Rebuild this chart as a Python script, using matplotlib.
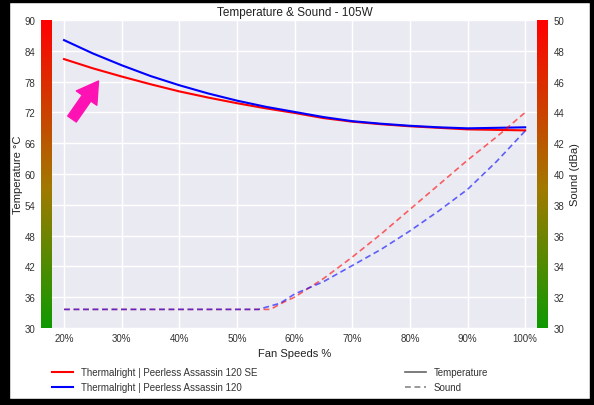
import numpy as np
import matplotlib
matplotlib.use('Agg')
import matplotlib.pyplot as plt
from matplotlib.colors import LinearSegmentedColormap
from matplotlib.lines import Line2D
from matplotlib.patches import Rectangle

plt.rcParams['font.family'] = ['Liberation Sans', 'DejaVu Sans']

# fan speed (%) and readings taken off the chart
temp_x = [20, 25, 30, 35, 40, 45, 50, 55, 60, 65, 70, 75, 80, 85, 90, 95, 100]
temp_se = [82.4, 80.6, 79.0, 77.5, 76.1, 74.9, 73.8, 72.8, 71.9, 70.9, 70.2,
           69.7, 69.3, 69.0, 68.7, 68.6, 68.5]
temp_pa = [86.1, 83.5, 81.2, 79.1, 77.3, 75.7, 74.3, 73.1, 72.1, 71.1, 70.3,
           69.8, 69.4, 69.1, 68.9, 69.0, 69.1]

sound_se_x = [20, 30, 40, 50, 55.8, 58, 60, 65, 70, 75, 80, 85, 90, 95, 100]
sound_se = [31.2, 31.2, 31.2, 31.2, 31.2, 31.65, 32.0, 33.2, 34.6, 36.1, 37.7,
            39.3, 40.9, 42.4, 44.0]
sound_pa_x = [20, 30, 40, 50, 53.7, 57.5, 60, 65, 70, 75, 80, 85, 90, 95, 100]
sound_pa = [31.2, 31.2, 31.2, 31.2, 31.2, 31.6, 32.2, 33.0, 34.05, 35.1, 36.3,
            37.6, 39.0, 40.8, 42.8]

names = ['Thermalright | Peerless Assassin 120 SE', 'Thermalright | Peerless Assassin 120']
colors = ['red', 'blue']

x_ticks = [20, 30, 40, 50, 60, 70, 80, 90, 100]
temp_ticks = [30, 36, 42, 48, 54, 60, 66, 72, 78, 84, 90]
sound_ticks = [30, 32, 34, 36, 38, 40, 42, 44, 46, 48, 50]

fig = plt.figure(figsize=(5.94, 4.06), dpi=100)
ax = fig.add_axes([0.069, 0.19, 0.854, 0.758])
ax.set_facecolor('#EAEAF2')
for s in ax.spines.values():
    s.set_visible(False)
ax.grid(True, color='white', linewidth=1.0)
ax.set_axisbelow(True)

ax.plot(temp_x, temp_se, color=colors[0], lw=1.5, zorder=3)
ax.plot(temp_x, temp_pa, color=colors[1], lw=1.5, zorder=3)

ax.set_xticks(x_ticks)
ax.set_xticklabels([f'{v}%' for v in x_ticks])
ax.set_yticks(temp_ticks)
ax.tick_params(length=0, labelsize=7, labelcolor='#333333', pad=4)
ax.set_xlabel('Fan Speeds %', fontsize=8, color='#222222', labelpad=3)
ax.set_ylabel('Temperature °C', fontsize=8, color='#222222', labelpad=1)
ax.set_title('Temperature & Sound - 105W', fontsize=8.5, color='#222222', pad=4)

# colour strips at both sides
cmap = LinearSegmentedColormap.from_list('gr', [(0, '#0f9900'), (0.45, '#a07a00'), (1, '#ff0000')])
grad = np.linspace(0, 1, 256).reshape(-1, 1)
ax.imshow(grad, cmap=cmap, origin='lower', aspect='auto', extent=(16, 17.9, 30, 90), zorder=2)
ax.imshow(grad, cmap=cmap, origin='lower', aspect='auto', extent=(102.1, 104, 30, 90), zorder=2)
ax.set_xlim(16, 104)
ax.set_ylim(30, 90)

ax2 = ax.twinx()
for s in ax2.spines.values():
    s.set_visible(False)
ax2.grid(False)
ax2.plot(sound_se_x, sound_se, color=colors[0], lw=1.2, ls='--', alpha=0.6, dashes=(3.5, 2.2))
ax2.plot(sound_pa_x, sound_pa, color=colors[1], lw=1.2, ls='--', alpha=0.6, dashes=(3.5, 2.2))
ax2.set_ylim(30, 50)
ax2.set_yticks(sound_ticks)
ax2.tick_params(length=0, labelsize=7, labelcolor='#333333', pad=4)
ax2.set_ylabel('Sound (dBa)', fontsize=8, color='#222222', labelpad=4)

h1 = [Line2D([], [], color=c, lw=1.5) for c in colors]
fig.legend(h1, names, loc='upper left', bbox_to_anchor=(0.081, 0.103), frameon=False,
           fontsize=7, handlelength=2.2, labelspacing=0.5, borderaxespad=0, labelcolor='#333333')
h2 = [Line2D([], [], color='#666666', lw=1.2),
      Line2D([], [], color='#888888', lw=1.2, ls='--', dashes=(3.5, 2.2))]
fig.legend(h2, ['Temperature', 'Sound'], loc='upper left', bbox_to_anchor=(0.675, 0.103),
           frameon=False, fontsize=7, handlelength=2.2, labelspacing=0.5, borderaxespad=0,
           labelcolor='#333333')

# pink pointer arrow
fig.add_artist(matplotlib.patches.FancyArrowPatch(
    (72, 286), (98.5, 324), transform=None, color='#ff12b4', shrinkA=0, shrinkB=0,
    arrowstyle='simple,head_length=1.5,head_width=1.8,tail_width=0.75', mutation_scale=10))

# black screenshot frame
for r in [(0, 0, 9, 406), (0, 403, 594, 3), (590, 0, 4, 406), (0, 0, 594, 6)]:
    fig.add_artist(Rectangle((r[0], r[1]), r[2], r[3], transform=None, color='black', zorder=10))

fig.savefig('out.png', dpi=100)
